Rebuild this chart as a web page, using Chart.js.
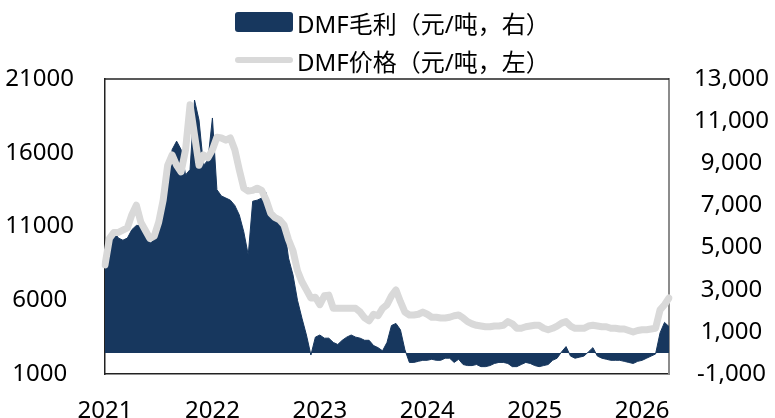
<!DOCTYPE html>
<html lang="zh">
<head>
<meta charset="UTF-8">
<title>DMF毛利与价格</title>
<script src="https://cdn.jsdelivr.net/npm/chart.js"></script>
<style>
  body { margin: 0; background: #fff; }
  .wrap { position: relative; width: 775px; height: 418px; }
  .legenda { position: absolute; left: 235px; top: 3px; font-family: "Noto Sans", "Noto Sans CJK SC", sans-serif; font-size: 24px; color: #000; }
  .item { display: flex; align-items: center; height: 38px; white-space: nowrap; }
  .marca { width: 58px; margin-right: 4px; }
</style>
</head>
<body>
<div class="wrap">
  <canvas id="grafico" width="775" height="418"></canvas>
  <div class="legenda" id="legenda"></div>
</div>

<script>
// eixo x: meses de 2021-01 a 2026-04, duas leituras por mês
const anos = ["2021", "2022", "2023", "2024", "2025", "2026"];
const datas = [];
for (const a of anos) {
    for (let m = 1; m <= 12; m++) {
        if (a === "2026" && m > 4) break;
        const mm = String(m).padStart(2, "0");
        datas.push(a + "-" + mm + "-01");
        if (!(a === "2026" && m === 4)) datas.push(a + "-" + mm + "-16");
    }
}

// DMF价格 (元/吨, eixo esquerdo)
const preco = [
    8400, 10200, 10600, 10600, 10750, 10900, 11800, 12450, 11300, 10750, 10200, 10350,
    11300, 12800, 15150, 15850, 15150, 14700, 16200, 19250, 17200, 15150, 15850, 15650,
    16200, 17050, 17000, 16850, 17000, 16200, 14850, 13600, 13400, 13450, 13600, 13450,
    12800, 11900, 11600, 11450, 11100, 10100, 9350, 8000, 7250, 6700, 6150, 6200,
    5700, 6300, 6350, 5450, 5450, 5450, 5450, 5450, 5450, 5200, 4800, 4600,
    5050, 4950, 5450, 5700, 6300, 6700, 5900, 5200, 5000, 5000, 5050, 5200,
    5050, 4850, 4850, 4800, 4800, 4850, 4950, 5000, 4800, 4550, 4400, 4300,
    4250, 4200, 4200, 4250, 4250, 4300, 4550, 4400, 4100, 4100, 4200, 4250,
    4300, 4300, 4100, 4000, 4100, 4250, 4450, 4550, 4250, 4100, 4100, 4100,
    4250, 4300, 4250, 4200, 4200, 4100, 4100, 4050, 4050, 3950, 3850, 3950,
    4000, 4000, 4050, 4100, 5350, 5700, 6150
];

// DMF毛利 (元/吨, eixo direito)
const margem = [
    3900, 5500, 5750, 5450, 5350, 5450, 5850, 6050, 6050, 5700, 5200, 5350,
    5750, 7000, 8200, 9650, 10050, 9650, 8450, 8700, 12000, 11050, 8900, 9150,
    11150, 7750, 7450, 7350, 7250, 7000, 6550, 5750, 4650, 7200, 7250, 7350,
    7600, 6400, 6400, 6400, 6050, 4500, 3700, 2500, 1650, 850, -100, 750,
    850, 700, 700, 500, 400, 600, 750, 850, 750, 700, 600, 600,
    350, 250, 100, 500, 1300, 1400, 1100, 150, -450, -450, -400, -350,
    -350, -300, -350, -350, -250, -250, -450, -300, -550, -600, -600, -550,
    -650, -650, -600, -500, -450, -450, -500, -650, -650, -550, -450, -500,
    -600, -650, -600, -550, -350, -250, 50, 300, -150, -250, -200, -150,
    50, 250, -150, -250, -300, -350, -350, -350, -400, -450, -500, -400,
    -350, -250, -150, -50, 950, 1450, 1250
];

const ticksEsq = [1000, 6000, 11000, 16000, 21000];
const ticksDir = [-1000, 1000, 3000, 5000, 7000, 9000, 11000, 13000];

const corMargem = "#17375e";
const corPreco = "#d9d9d9";
const fonte = "'Noto Sans', 'Noto Sans CJK SC', sans-serif";

// borda de cima da área do gráfico
const bordaTopo = {
    id: "bordaTopo",
    afterDraw(chart) {
        const { ctx, chartArea } = chart;
        ctx.save();
        ctx.strokeStyle = "#222";
        ctx.lineWidth = 1.5;
        ctx.beginPath();
        ctx.moveTo(chartArea.left, chartArea.top);
        ctx.lineTo(chartArea.right, chartArea.top);
        ctx.stroke();
        ctx.restore();
    }
};

const ctx = document.getElementById("grafico").getContext("2d");
const grafico = new Chart(ctx, {
    type: "line",
    data: {
        labels: datas,
        datasets: [
            {
                label: "DMF毛利（元/吨，右）",
                data: margem,
                yAxisID: "y1",
                backgroundColor: corMargem,
                borderColor: corMargem,
                borderWidth: 1,
                pointRadius: 0,
                tension: 0,
                fill: "origin",
                order: 2
            },
            {
                label: "DMF价格（元/吨，左）",
                data: preco,
                yAxisID: "y",
                borderColor: corPreco,
                backgroundColor: corPreco,
                borderWidth: 7,
                borderJoinStyle: "round",
                borderCapStyle: "round",
                pointRadius: 0,
                tension: 0,
                fill: false,
                order: 1
            }
        ]
    },
    options: {
        responsive: false,
        animation: false,
        layout: { padding: { top: 79, left: 0, right: 0, bottom: 0 } },
        plugins: {
            legend: { display: false },
            tooltip: { enabled: false }
        },
        scales: {
            x: {
                grid: { display: false },
                border: { display: true, color: "#222", width: 1.5 },
                ticks: {
                    autoSkip: false,
                    maxRotation: 0,
                    padding: 15,
                    color: "#000",
                    font: { family: fonte, size: 24 },
                    callback: function (v) {
                        const d = this.getLabelForValue(v);
                        return d.endsWith("-01-01") ? d.slice(0, 4) : null;
                    }
                },
                afterFit: s => { s.height = 44; }
            },
            y: {
                position: "left",
                min: 1000,
                max: 21000,
                grid: { display: false },
                border: { display: true, color: "#222", width: 1.5 },
                afterBuildTicks: s => { s.ticks = ticksEsq.map(v => ({ value: v })); },
                ticks: {
                    crossAlign: "center",
                    padding: 23,
                    color: "#000",
                    font: { family: fonte, size: 24 },
                    callback: v => String(v)
                },
                afterFit: s => { s.width = 105; }
            },
            y1: {
                position: "right",
                min: -1000,
                max: 13000,
                grid: { display: false },
                border: { display: true, color: "#8c8c8c", width: 2 },
                afterBuildTicks: s => { s.ticks = ticksDir.map(v => ({ value: v })); },
                ticks: {
                    crossAlign: "center",
                    padding: 17,
                    color: "#000",
                    font: { family: fonte, size: 24 },
                    callback: v => v.toLocaleString("en-US")
                },
                afterFit: s => { s.width = 106; }
            }
        }
    },
    plugins: [bordaTopo]
});

// legenda em HTML (duas linhas, como no original)
const legenda = document.getElementById("legenda");
grafico.data.datasets.forEach((ds, i) => {
    const item = document.createElement("div");
    item.className = "item";
    const marca = document.createElement("span");
    marca.className = "marca";
    if (ds.fill) {
        marca.style.height = "20px";
        marca.style.borderRadius = "3px";
        marca.style.background = ds.backgroundColor;
    } else {
        marca.style.height = "6px";
        marca.style.borderRadius = "3px";
        marca.style.background = ds.borderColor;
    }
    const texto = document.createElement("span");
    texto.textContent = ds.label;
    item.appendChild(marca);
    item.appendChild(texto);
    legenda.appendChild(item);
});
</script>
</body>
</html>
